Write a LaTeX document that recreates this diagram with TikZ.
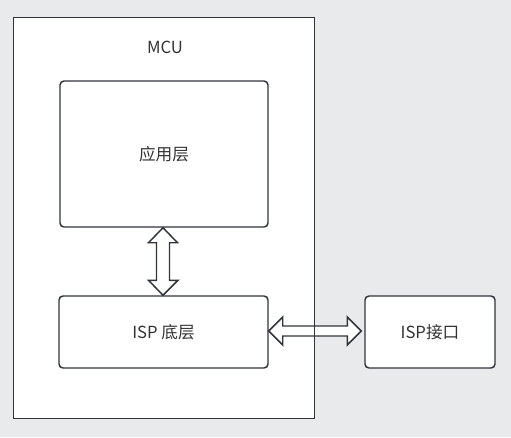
\documentclass[tikz,border=0pt]{standalone}
\usepackage{fontspec}
\setmainfont{Noto Sans CJK SC}
\usepackage{xcolor}
\usepackage{tikz}
\usetikzlibrary{calc,positioning}
\definecolor{bg}{HTML}{E9EAEC}
\definecolor{edge}{HTML}{30353B}
\definecolor{ink}{HTML}{333333}
\tikzset{
  outer/.style={fill=white, inner sep=0pt, minimum width=225pt, minimum height=300pt},
  box/.style={draw=edge, fill=white, line width=1.1pt, rounded corners=3pt, inner sep=0pt},
  arr/.style={draw=edge, fill=white, line width=1.1pt, line join=miter},
  labt/.style={text=ink, font=\fontsize{12.5pt}{15pt}\selectfont},
  every node/.style={text=ink, font=\fontsize{12.5pt}{15pt}\selectfont}
}
\begin{document}
\begin{tikzpicture}[x=0.75pt, y=-0.75pt]
  \fill[bg] (0,0) rectangle (511,437);
  \useasboundingbox (0,0) rectangle (511,437);

  \node[outer] (mcu) at (164,218) {};
  \node[labt] (mcutitle) at ($(mcu.north)+(1,30)$) {MCU};

  \node[box, minimum width=156pt, minimum height=109.5pt] (app) at (164,154) {应用层};
  \node[box, minimum width=156.75pt, minimum height=54pt] (isp) at (163.5,332) {ISP 底层};
  \node[box, minimum width=97.5pt, minimum height=54pt] (port) at (430,332) {ISP接口};

  % app <-> isp
  \draw[arr] ($(app.south)+(-1,0)$) -- ++(14.5,15) -- ++(-8,0) |- ($(isp.north)+(6.5,-15)$)
    -- ++(8,0) -- ($(isp.north)+(-0.5,0)$) -- ++(-14.5,-15) -- ++(8,0)
    |- ($(app.south)+(-7.5,15)$) -- ++(-8,0) -- cycle;
  % isp <-> port
  \draw[arr] ($(isp.east)+(0,-1)$) -- ++(14,-14) -- ++(0,9) -| ($(port.west)+(-17,-6)$)
    -- ++(0,-9) -- ($(port.west)+(-3,-1)$) -- ++(-14,14) -- ++(0,-9)
    -| ($(isp.east)+(14,4)$) -- ++(0,9) -- cycle;

  \draw[draw=edge, line width=1.1pt] (mcu.north west) rectangle (mcu.south east);
\end{tikzpicture}
\end{document}
